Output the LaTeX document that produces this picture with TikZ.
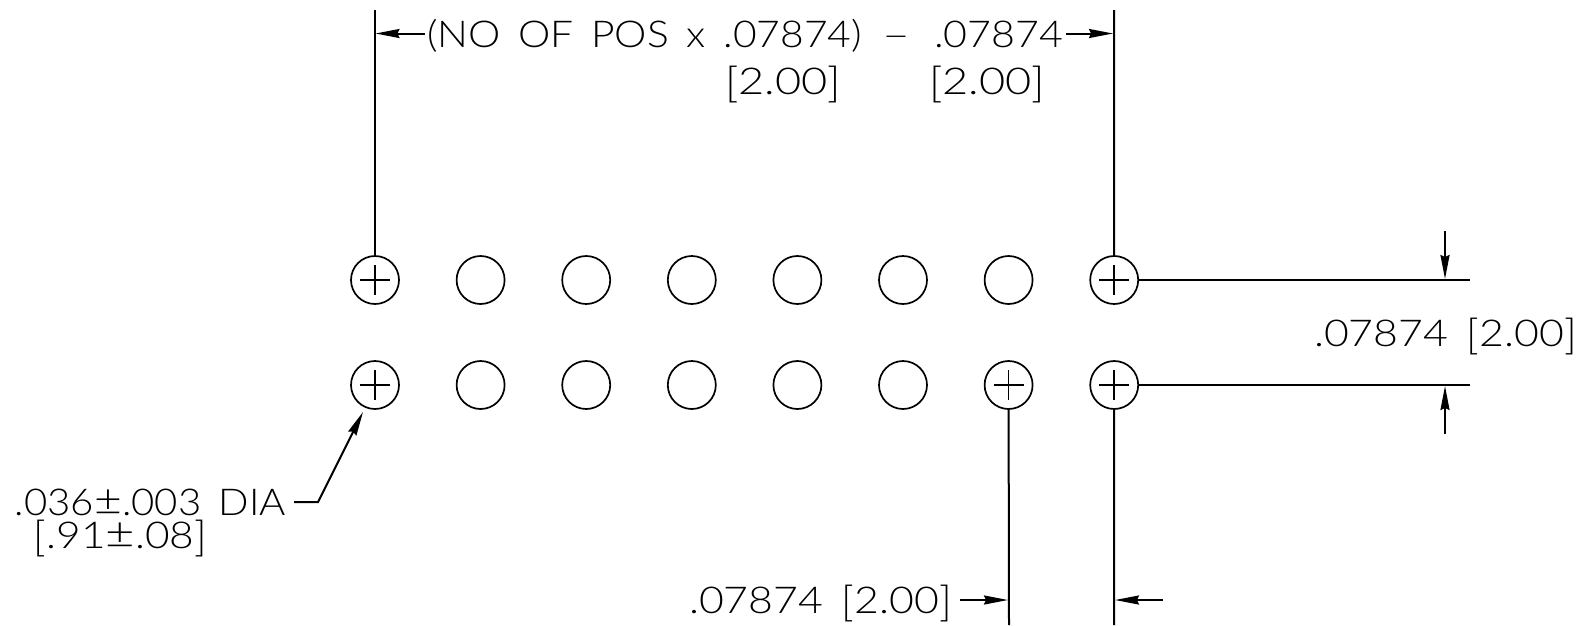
\documentclass[tikz,border=0pt]{standalone}
\usepackage{fontspec}
\usepackage{graphicx}
\setmainfont{Lato}[UprightFont=* Light,WordSpace=1.6]
\usetikzlibrary{arrows.meta,calc}
\newcommand\lbr{\raisebox{-0.1em}{\scalebox{1}[1.12]{[}}}
\newcommand\rbr{\raisebox{-0.1em}{\scalebox{1}[1.12]{]}}}
\newcommand\pmch{\scalebox{1.2}{±}}
\newcommand\fitw[2]{\resizebox{#1pt}{\height}{#2}}
\tikzset{
  hole/.style={circle,draw,line width=1.7pt,minimum size=48pt,inner sep=0pt,outer sep=0pt},
  crossline/.style={line width=1.7pt},
  dimline/.style={line width=2pt},
  dimarrow/.style={line width=2pt,-{Stealth[length=24pt,width=9pt,inset=2pt]}},
  label/.style={anchor=base west,inner sep=0pt,outer sep=0pt,font=\fontsize{37}{40}\selectfont}
}
\begin{document}
\begin{tikzpicture}[x=1pt,y=-1pt]
\useasboundingbox (0,0) rectangle (1585,625);
\foreach \i in {0,...,7}{
  \node[hole] (a\i) at ({375+105.6*\i},280) {};
  \node[hole] (b\i) at ({375+105.6*\i},385) {};
}
\foreach \n in {a0,a7,b0,b6,b7}{
  \draw[crossline] ($(\n)+(-15,0)$) -- ($(\n)+(15,0)$);
  \draw[crossline] ($(\n)+(0,-15)$) -- ($(\n)+(0,15)$);
}
% free ends
\coordinate (tl) at (375,10);
\coordinate (tr) at (1114,10);
\coordinate (r1) at (1470,280);
\coordinate (r2) at (1470,385);
\coordinate (bl) at (1009,625);
\coordinate (br) at (1114,625);
\draw[dimline] (a0.north) -- (tl);
\draw[dimline] (a7.north) -- (tr);
\draw[dimline] (a7.east) -- (r1);
\draw[dimline] (b7.east) -- (r2);
\draw[dimline] (b6.south) -- (bl);
\draw[dimline] (b7.south) -- (br);
% labels
\node[label] (t1) at (427,47) {\fitw{435}{(NO OF POS x .07874)}};
\node[label] (t2) at (882,47) {\fitw{28}{–}};
\node[label] (t3) at (934,47) {\fitw{129}{.07874}};
\node[label] (t4) at (725,94) {\fitw{116}{\lbr 2.00\rbr}};
\node[label] (t5) at (929,94) {\fitw{116}{\lbr 2.00\rbr}};
\node[label] (t6) at (1314,346) {\fitw{263}{.07874 \lbr 2.00\rbr}};
\node[label] (t7) at (689,613) {\fitw{263}{.07874 \lbr 2.00\rbr}};
\node[label] (t8) at (15,515) {\fitw{271}{.036\pmch.003 DIA}};
\node[label] (t9) at (34,548) {\fitw{173}{\lbr .91\pmch.08\rbr}};
% arrows
\coordinate (ta) at (375.5,33.5);
\coordinate (tb) at (1113,33.5);
\draw[dimarrow] (t1.west |- ta) ++(-2,0) -- (ta);
\draw[dimarrow] (t3.east |- tb) ++(3,0) -- (tb);
\coordinate (d1) at (1445,231);
\coordinate (d2) at (1445,279);
\draw[dimarrow] (d1) -- (d2);
\coordinate (u1) at (1445,434);
\coordinate (u2) at (1445,386);
\draw[dimarrow] (u1) -- (u2);
\coordinate (ba) at (1008,600);
\draw[dimarrow] (t7.east |- ba) ++(8,0) -- (ba);
\coordinate (bb) at (1163,600);
\coordinate (bc) at (1115,600);
\draw[dimarrow] (bb) -- (bc);
\coordinate (l1) at (294,502);
\coordinate (l2) at (318,502);
\coordinate (l3) at (363,412);
\draw[dimarrow] (l1) -- (l2) -- (l3);
\end{tikzpicture}
\end{document}
